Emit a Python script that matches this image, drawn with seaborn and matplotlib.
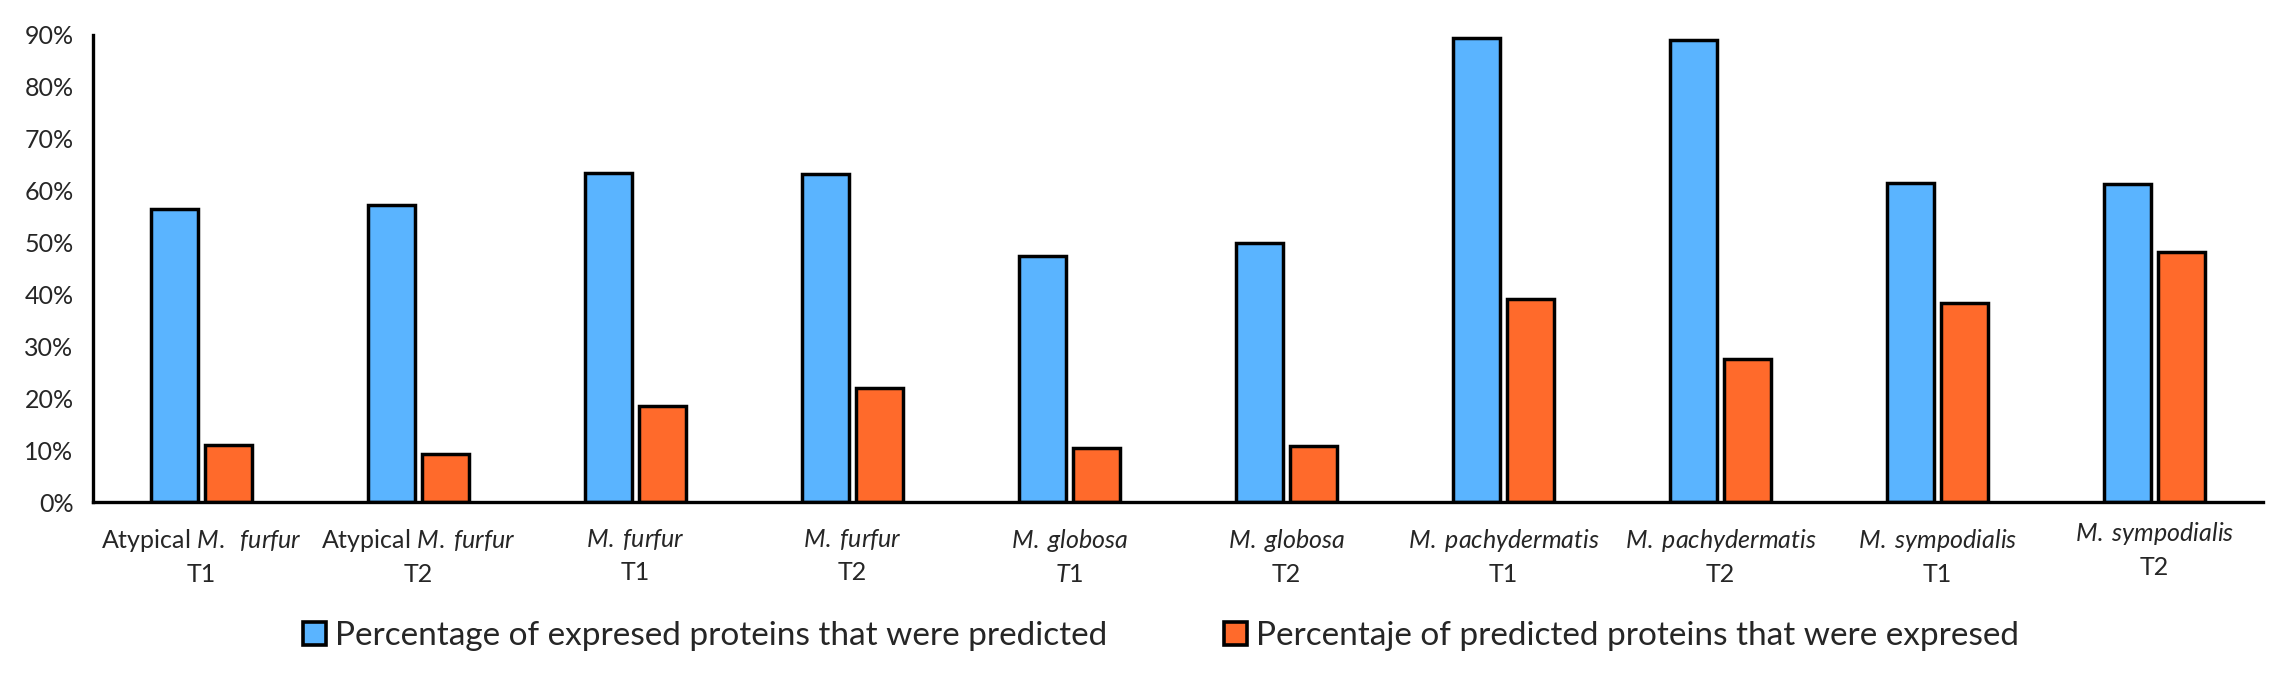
import pandas as pd
import matplotlib
matplotlib.use('Agg')
import matplotlib.pyplot as plt
import seaborn as sns
from matplotlib.ticker import PercentFormatter

# sample labels (mathtext for the italic species names)
samples = [
    r"Atypical $\it{M.\ \;furfur}$" + "\nT1",
    r"Atypical $\it{M.\;furfur}$" + "\nT2",
    r"$\it{M.\;furfur}$" + "\nT1",
    r"$\it{M.\;furfur}$" + "\nT2",
    r"$\it{M.\;globosa}$" + "\n" + r"$\it{T1}$",
    r"$\it{M.\;globosa}$" + "\nT2",
    r"$\it{M.\;pachydermatis}$" + "\nT1",
    r"$\it{M.\;pachydermatis}$" + "\nT2",
    r"$\it{M.\;sympodialis}$" + "\nT1",
    r"$\it{M.\;sympodialis}$" + "\nT2",
]
series_names = ["Percentage of expresed proteins that were predicted",
                "Percentaje of predicted proteins that were expresed"]
expressed_predicted = [56.5, 57.2, 63.5, 63.2, 47.5, 50.0, 89.5, 89.0, 61.5, 61.3]
predicted_expressed = [11.0, 9.3, 18.5, 22.0, 10.5, 10.8, 39.2, 27.6, 38.4, 48.2]

df = pd.DataFrame({
    "sample": samples * 2,
    "series": [series_names[0]] * len(samples) + [series_names[1]] * len(samples),
    "value": expressed_predicted + predicted_expressed,
})

sns.set_style("white")
plt.rcParams['font.family'] = ['Lato', 'DejaVu Sans']
plt.rcParams['mathtext.fontset'] = 'custom'
plt.rcParams['mathtext.rm'] = 'Lato'
plt.rcParams['mathtext.it'] = 'Lato:italic'

fig = plt.figure(figsize=(22.78, 6.78), dpi=100)
ax = fig.add_axes([93 / 2278, 1 - 502 / 678, (2263 - 93) / 2278, (502 - 35) / 678])

sns.barplot(ax=ax, data=df, x="sample", y="value", hue="series",
            palette=["#5AB4FF", "#FF6A2B"], saturation=1, edgecolor="black",
            linewidth=2.5, width=0.5, gap=0.14, legend=True)

ax.set_xlim(-0.5, 9.5)
ax.set_ylim(0, 90)
ax.set_yticks(range(0, 91, 10))
ax.yaxis.set_major_formatter(PercentFormatter(decimals=0))
ax.set_xlabel("")
ax.set_ylabel("")
ax.tick_params(axis='both', length=0, labelsize=18)
ax.tick_params(axis='y', pad=14)
ax.tick_params(axis='x', pad=18)
for lab in ax.get_xticklabels():
    lab.set_linespacing(1.45)
ax.get_xticklabels()[-1].set_y(0.015)

sns.despine(ax=ax)
for side in ["left", "bottom"]:
    ax.spines[side].set_color("black")
    ax.spines[side].set_linewidth(2.4)

handles, labels = ax.get_legend_handles_labels()
ax.get_legend().remove()
leg = fig.legend(handles, labels, loc="center", bbox_to_anchor=(1161 / 2278, 1 - 636 / 678),
                 ncol=2, frameon=False, fontsize=24, handlelength=0.7, handleheight=0.7,
                 handletextpad=0.27, columnspacing=3.5)
for h in leg.legend_handles:
    h.set_linewidth(2.6)

plt.savefig("out.png", dpi=100)
